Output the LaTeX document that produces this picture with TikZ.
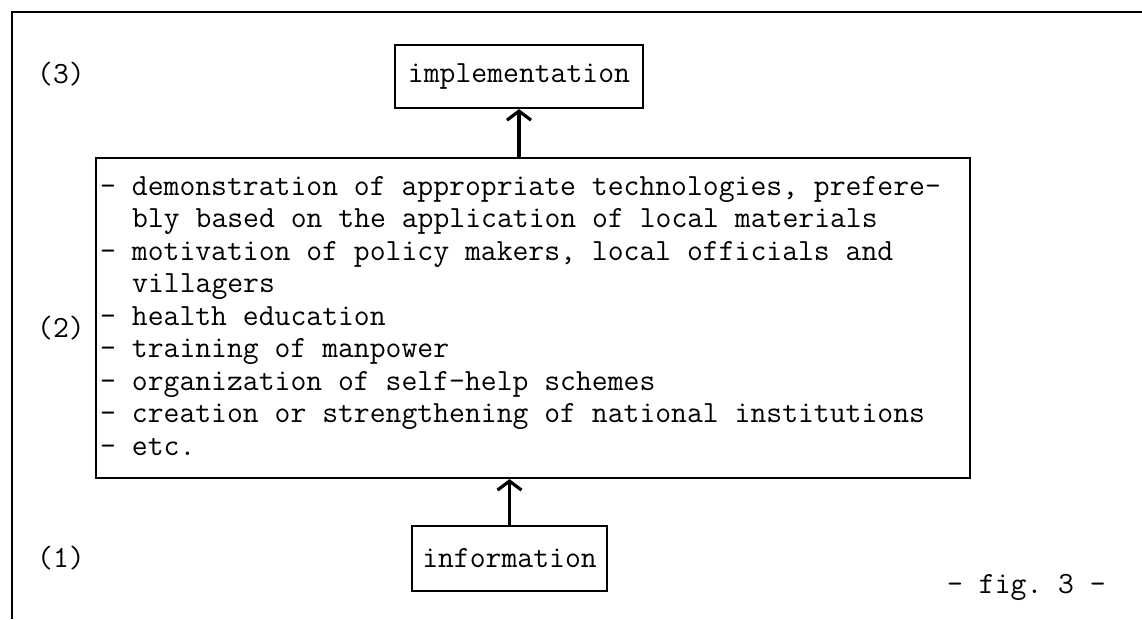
\documentclass[tikz,border=0pt]{standalone}
\usepackage{fontspec}
\usetikzlibrary{arrows.meta}
\begin{document}
\begin{tikzpicture}[x=1pt,y=-1pt,
  every node/.style={font=\fontsize{30.8}{36}\selectfont\ttfamily\addfontfeature{FakeBold=0.9}\frenchspacing, inner sep=0pt},
  boxnode/.style={draw, line width=2.2pt, rectangle},
  item/.style={anchor=base west},
  num/.style={anchor=base},
  arr/.style={line width=3.2pt, -{Straight Barb[length=9pt,width=24pt]}}]
\useasboundingbox (0,0) rectangle (1142,619);
% frame
\draw[line width=2.6pt] (11,12) -- (1142,12);
\draw[line width=2pt] (12,12) -- (12,619);
% boxes
\node[boxnode, minimum width=248pt, minimum height=63pt] (impl) at (519,76.5) {implementation};
\node[boxnode, minimum width=874pt, minimum height=320pt] (act) at (533,318) {};
\node[boxnode, minimum width=195pt, minimum height=65pt] (info) at (509.5,558.5) {information};
% arrows
\draw[arr] (impl.south |- act.north) -- (impl.south);
\draw[arr] (info.north) -- (info.north |- act.south);
% level labels
\node[num] (n3) at (61,83) {(3)};
\node[num] (n2) at (61,337) {(2)};
\node[num] (n1) at (61,567) {(1)};
% items
\node[item] (l1) at (100,195) {- demonstration of appropriate technologies, prefere-};
\node[item] (l2) at (132,227.5) {bly based on the application of local materials};
\node[item] (l3) at (100,260) {- motivation of policy makers, local officials and};
\node[item] (l4) at (132,292.5) {villagers};
\node[item] (l5) at (100,325) {- health education};
\node[item] (l6) at (100,357.5) {- training of manpower};
\node[item] (l7) at (100,390) {- organization of self-help schemes};
\node[item] (l8) at (100,422.5) {- creation or strengthening of national institutions};
\node[item] (l9) at (100,455) {- etc.};
% caption
\node[item] (fig) at (947,593) {- fig. 3 -};
\end{tikzpicture}
\end{document}
